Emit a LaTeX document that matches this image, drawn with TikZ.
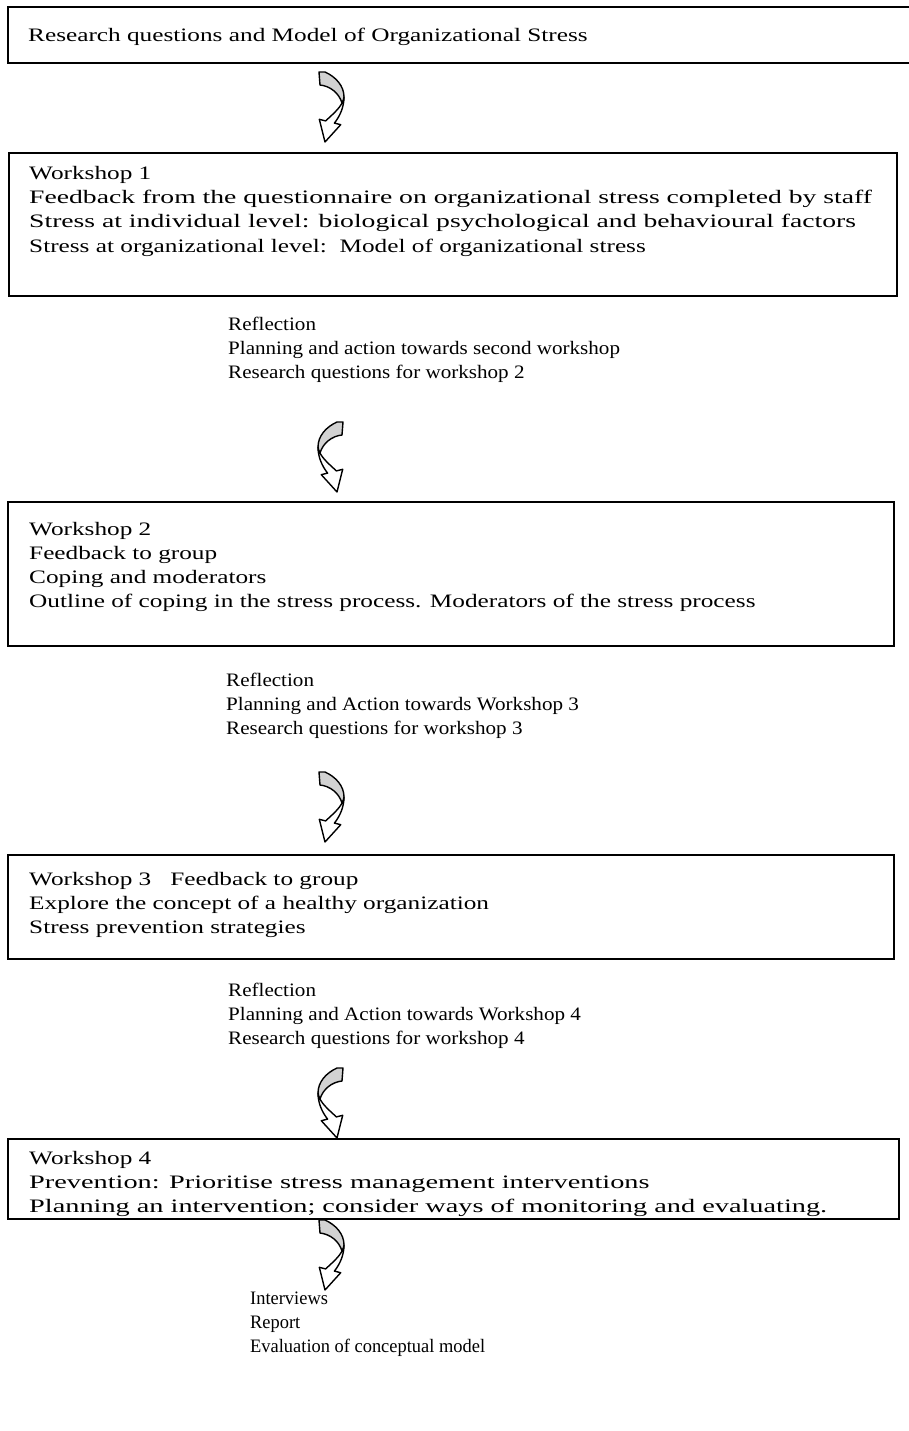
\documentclass[tikz,border=0pt]{standalone}
\usepackage{fontspec}
\setmainfont{Liberation Serif}
\newfontfamily\boxfont{Liberation Serif}[FakeStretch=1.33]
\newfontfamily\widefont{Liberation Serif}[FakeStretch=1.455]
\newfontfamily\lastfont{Liberation Serif}[FakeStretch=1.49]
\newfontfamily\notefont{Liberation Serif}[FakeStretch=1.11]
\newfontfamily\endfont{Liberation Serif}[FakeStretch=0.97]
\begin{document}
\begin{tikzpicture}[x=1pt,y=-1pt,
  stagebox/.style={draw,line width=1.6pt,inner sep=0pt,anchor=north west},
  stagetext/.style={anchor=base west,align=left,inner sep=0pt,
    font=\boxfont\fontsize{19}{24.3}\selectfont},
  notetext/.style={anchor=base west,align=left,inner sep=0pt,
    font=\notefont\fontsize{19}{24.3}\selectfont},
  endtext/.style={notetext,font=\endfont\fontsize{19}{24.3}\selectfont},
  bandback/.style={fill=gray!35,draw=black,line width=1.4pt,line join=round},
  bandfront/.style={fill=white,draw=black,line width=1.4pt,line join=round},
  turnarrow/.pic={
    % back face of the band
    \path[bandback] (0,0) -- (6,0) .. controls (17,5) and (25,14) .. (25,25)
      .. controls (25,27) and (24.3,29) .. (23,31)
      .. controls (20,21) and (11,14) .. (1,13) -- cycle;
    % front face with the head
    \path[bandfront] (25,25) .. controls (25,35) and (21,44) .. (15.4,51.1)
      -- (21.7,52.7) -- (6,70) -- (0.3,47.3) -- (6.6,48.9)
      .. controls (13,43) and (20,37) .. (23,31)
      .. controls (24.3,29) and (25,27) .. (25,25) -- cycle;
  }]
\useasboundingbox (0,0) rectangle (908,1431);

% stage boxes
\node[stagebox,minimum width=910pt,minimum height=56pt] (b0) at (7,6) {};
\node[stagebox,minimum width=888pt,minimum height=143pt] (b1) at (8,152) {};
\node[stagebox,minimum width=886pt,minimum height=144pt] (b2) at (7,501) {};
\node[stagebox,minimum width=886pt,minimum height=104pt] (b3) at (7,854) {};
\node[stagebox,minimum width=891pt,minimum height=80pt] (b4) at (7,1138) {};

% box contents (each node sits on the baseline of its last line)
\node[stagetext] (t0) at (28,41.7) {Research questions and Model of Organizational Stress};
\node[stagetext] (t1) at (29,252.2) {Workshop 1\\
  {\widefont Feedback from the questionnaire on organizational stress completed by staff}\\
  {\widefont Stress at individual level: biological psychological and behavioural factors}\\
  Stress at organizational level:\ \ Model of organizational stress};
\node[stagetext] (t2) at (29,607.9) {Workshop 2\\
  Feedback to group\\
  Coping and moderators\\
  Outline of coping in the stress process. Moderators of the stress process};
\node[stagetext] (t3) at (29,933.6) {Workshop 3\ \ \ Feedback to group\\
  Explore the concept of a healthy organization\\
  Stress prevention strategies};
\node[stagetext] (t4) at (29,1212.6) {Workshop 4\\
  {\lastfont Prevention: Prioritise stress management interventions}\\
  {\lastfont Planning an intervention; consider ways of monitoring and evaluating.}};

% reflection notes between the workshops
\node[notetext] (r1) at (228,378.6) {Reflection\\
  Planning and action towards second workshop\\
  Research questions for workshop 2};
\node[notetext] (r2) at (226,734.6) {Reflection\\
  Planning and Action towards Workshop 3\\
  Research questions for workshop 3};
\node[notetext] (r3) at (228,1044.6) {Reflection\\
  Planning and Action towards Workshop 4\\
  Research questions for workshop 4};
\node[endtext] (r4) at (250,1352.6) {Interviews\\
  Report\\
  Evaluation of conceptual model};

% curved block arrows
\pic at (319,72) {turnarrow};
\pic[xscale=-1] at (343,422) {turnarrow};
\pic at (319,772) {turnarrow};
\pic[xscale=-1] at (343,1068) {turnarrow};
\pic at (319,1220) {turnarrow};
\end{tikzpicture}
\end{document}
